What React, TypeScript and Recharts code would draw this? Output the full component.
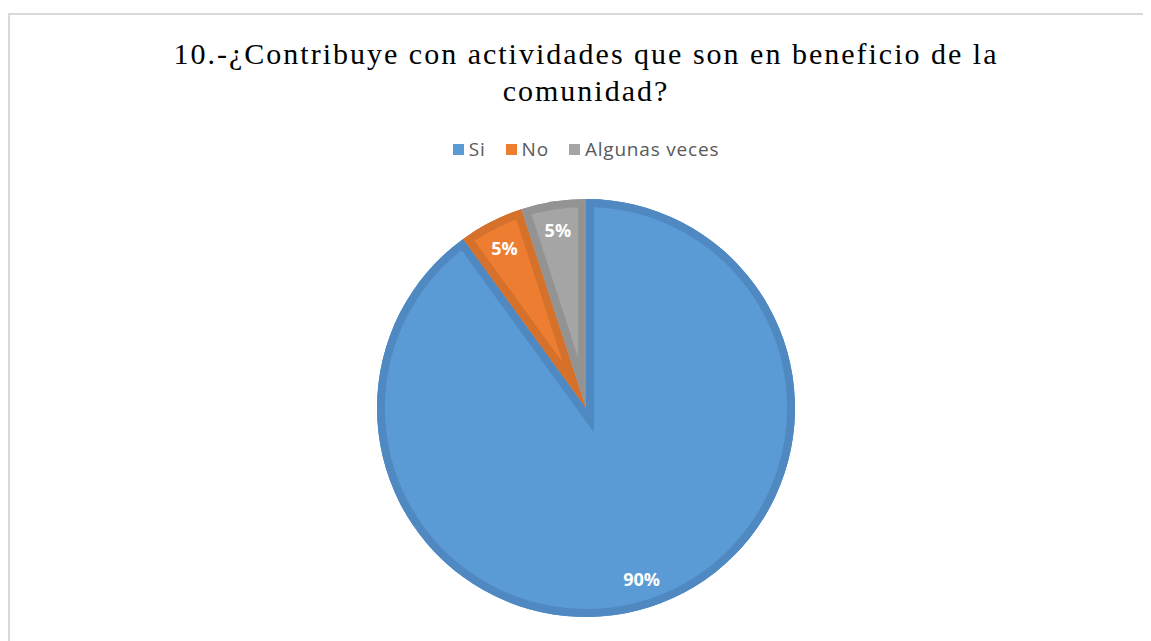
import { PieChart, Pie, Cell, Sector } from "recharts";

const categories = ["Si", "No", "Algunas veces"];
const percentages = [90, 5, 5];
const fills = ["#5B9BD5", "#ED7D31", "#A5A5A5"];
const edges = ["#5089C2", "#D6712B", "#939393"];

const data = categories.map((name, i) => ({ name, value: percentages[i] }));

const RAD = Math.PI / 180;

// draws the darker inner rim of each slice (stroke clipped to the slice) and the % text
const renderSlice = (props: any) => {
  const { cx, cy, outerRadius, startAngle, endAngle, midAngle, index, value } = props;
  const clipId = `slice-clip-${index}`;
  const r = outerRadius * 0.86;
  const x = cx + r * Math.cos(-midAngle * RAD);
  const y = cy + r * Math.sin(-midAngle * RAD);
  return (
    <g>
      <defs>
        <clipPath id={clipId}>
          <Sector cx={cx} cy={cy} innerRadius={0} outerRadius={outerRadius} startAngle={startAngle} endAngle={endAngle} />
        </clipPath>
      </defs>
      <Sector
        cx={cx}
        cy={cy}
        innerRadius={0}
        outerRadius={outerRadius}
        startAngle={startAngle}
        endAngle={endAngle}
        fill={fills[index]}
        stroke={edges[index]}
        strokeWidth={16}
        strokeLinejoin="miter"
        clipPath={`url(#${clipId})`}
      />
      <text
        x={x}
        y={y}
        textAnchor="middle"
        dominantBaseline="central"
        fill="#ffffff"
        fontFamily="'Open Sans', sans-serif"
        fontWeight={700}
        fontSize={18}
      >
        {`${value}%`}
      </text>
    </g>
  );
};

export default function App() {
  return (
    <div
      style={{
        position: "relative",
        marginTop: 5,
        width: 1150,
        height: 640,
        border: "2px solid #d9d9d9",
        background: "#ffffff",
      }}
    >
      <div
        style={{
          position: "absolute",
          top: 20,
          left: 0,
          width: 1152,
          textAlign: "center",
          fontFamily: "'Liberation Serif', 'Times New Roman', serif",
          fontSize: 30,
          letterSpacing: 2,
          lineHeight: "37px",
          color: "#000000",
        }}
      >
        10.-¿Contribuye con actividades que son en beneficio de la
        <br />
        comunidad?
      </div>
      <div
        style={{
          position: "absolute",
          top: 121,
          left: 0,
          width: 1152,
          display: "flex",
          justifyContent: "center",
          gap: 20,
          fontFamily: "'Open Sans', sans-serif",
          fontSize: 19,
          letterSpacing: 0.8,
          color: "#595959",
          zIndex: 1,
        }}
      >
        {categories.map((name, i) => (
          <span key={`leg-${i}`} style={{ display: "flex", alignItems: "center" }}>
            <span style={{ display: "inline-block", width: 11, height: 11, background: fills[i], marginRight: 5 }} />
            {name}
          </span>
        ))}
      </div>
      <div style={{ position: "absolute", top: 0, left: 0 }}>
        <PieChart width={1150} height={640} margin={{ top: 0, right: 0, bottom: 0, left: 0 }}>
          <Pie
            data={data}
            dataKey="value"
            nameKey="name"
            cx={576}
            cy={393}
            outerRadius={209}
            startAngle={90}
            endAngle={-270}
            stroke="none"
            label={renderSlice}
            labelLine={false}
            isAnimationActive={false}
          >
            {data.map((entry, index) => (
              <Cell key={`cell-${index}`} fill={fills[index]} />
            ))}
          </Pie>
        </PieChart>
      </div>
    </div>
  );
}
